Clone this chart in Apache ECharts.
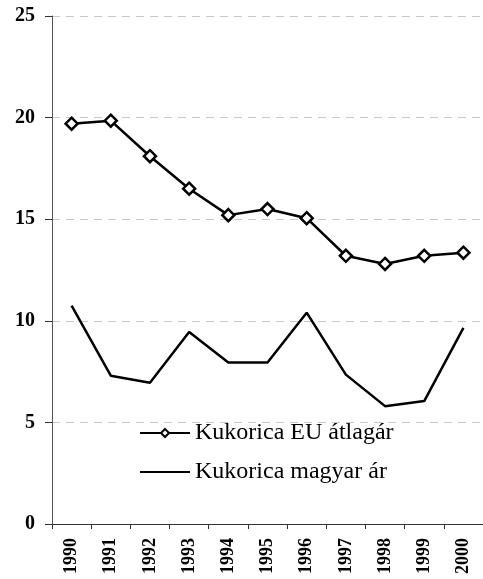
<!DOCTYPE html>
<html lang="hu">
<head>
    <meta charset="UTF-8">
    <title>Kukorica árak</title>
    <script src="https://cdn.jsdelivr.net/npm/echarts@6/dist/echarts.min.js"></script>
    <style>
        html, body { margin: 0; padding: 0; background: #fff; }
    </style>
</head>
<body>
    <div id="chart" style="width: 483px; height: 579px;"></div>
    <script>
        const years = ['1990', '1991', '1992', '1993', '1994', '1995', '1996', '1997', '1998', '1999', '2000']
        const euPrice = [19.7, 19.85, 18.1, 16.5, 15.2, 15.5, 15.05, 13.2, 12.8, 13.2, 13.35]
        const huPrice = [10.75, 7.3, 6.95, 9.45, 7.95, 7.95, 10.4, 7.35, 5.8, 6.05, 9.65]

        const serif = 'Liberation Serif, Times New Roman, serif'
        const chart = echarts.init(document.getElementById('chart'))

        const option = {
            animation: false,
            legend: {
                orient: 'vertical',
                left: 134,
                top: 416,
                itemWidth: 50,
                itemHeight: 10,
                itemGap: 15,
                textStyle: { fontFamily: serif, fontSize: 24, color: '#000' },
                data: ['Kukorica EU átlagár', 'Kukorica magyar ár']
            },
            grid: { left: 52, top: 16, width: 433, height: 508 },
            xAxis: {
                type: 'category',
                data: years,
                boundaryGap: true,
                axisLine: { lineStyle: { color: '#333', width: 1 } },
                axisTick: { show: true, length: 5, lineStyle: { color: '#333' } },
                axisLabel: {
                    rotate: 90, margin: 14, interval: 0,
                    fontFamily: serif, fontSize: 18, fontWeight: 'bold', color: '#000'
                },
                splitLine: { show: false }
            },
            yAxis: {
                type: 'value',
                min: 0, max: 25, interval: 5,
                axisLine: { show: true, lineStyle: { color: '#555', width: 1 } },
                axisTick: { show: true, length: 7, lineStyle: { color: '#333' } },
                axisLabel: {
                    margin: 17,
                    fontFamily: serif, fontSize: 20, fontWeight: 'bold', color: '#000'
                },
                splitLine: { lineStyle: { color: '#c8c8c8', type: [8, 6], width: 1 } }
            },
            series: [
                {
                    name: 'Kukorica EU átlagár',
                    type: 'line',
                    data: euPrice,
                    symbol: 'diamond',
                    symbolSize: [12, 12],
                    lineStyle: { color: '#000', width: 2.5 },
                    itemStyle: { color: '#fff', borderColor: '#000', borderWidth: 2.5 }
                },
                {
                    name: 'Kukorica magyar ár',
                    type: 'line',
                    data: huPrice,
                    symbol: 'circle',
                    showSymbol: false,
                    lineStyle: { color: '#000', width: 2.5 },
                    itemStyle: { color: 'rgba(0,0,0,0)', borderWidth: 0 }
                }
            ]
        }

        chart.setOption(option)
    </script>
</body>
</html>
